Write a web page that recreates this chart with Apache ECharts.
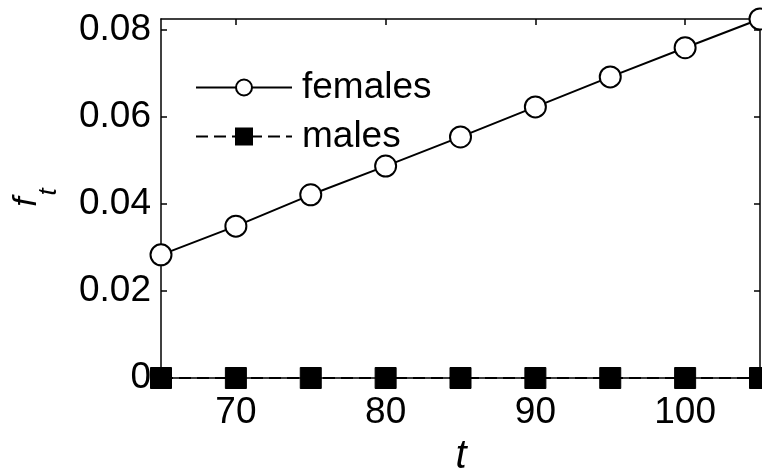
<!DOCTYPE html>
<html>
<head>
<meta charset="utf-8">
<script src="https://cdn.jsdelivr.net/npm/echarts@6/dist/echarts.min.js"></script>
<style>
  html, body { margin: 0; padding: 0; background: #fff; }
  #chart { width: 762px; height: 473px; }
</style>
</head>
<body>
<div id="chart"></div>
<script>
// Ages (t) and the fraction f_t for each sex
const ages = [65, 70, 75, 80, 85, 90, 95, 100, 105];
const females = [0.0283, 0.0349, 0.0421, 0.0487, 0.0554, 0.0623, 0.0692, 0.0759, 0.0825];
const males = [0, 0, 0, 0, 0, 0, 0, 0, 0];
const xTicks = [70, 80, 90, 100];
const yTicks = [0, 0.02, 0.04, 0.06, 0.08];

const FONT = '"Liberation Sans", Arial, sans-serif';

const pairs = (ys) => ages.map((a, i) => [a, ys[i]]);

const chart = echarts.init(document.getElementById('chart'), null, { renderer: 'canvas' });

const axisCommon = {
  axisLine: { show: true, onZero: false, lineStyle: { color: '#000', width: 1.5 } },
  axisTick: { show: true, inside: true, length: 6, lineStyle: { color: '#000', width: 1.5 } },
  splitLine: { show: false }
};

chart.setOption({
  animation: false,
  backgroundColor: '#fff',
  grid: { left: 161, right: 2, top: 19, bottom: 95, containLabel: false, outerBoundsMode: 'none' },
  xAxis: [
    Object.assign({}, axisCommon, {
      type: 'value', min: 65, max: 105, position: 'bottom',
      axisTick: Object.assign({}, axisCommon.axisTick, { customValues: xTicks }),
      axisLabel: { customValues: xTicks, color: '#000', fontFamily: FONT, fontSize: 37, margin: 16 }
    }),
    Object.assign({}, axisCommon, {
      type: 'value', min: 65, max: 105, position: 'top',
      axisTick: Object.assign({}, axisCommon.axisTick, { customValues: xTicks }),
      axisLabel: { show: false }
    })
  ],
  yAxis: [
    Object.assign({}, axisCommon, {
      type: 'value', min: 0, max: 0.0825, position: 'left',
      axisTick: Object.assign({}, axisCommon.axisTick, { customValues: yTicks }),
      axisLabel: {
        customValues: yTicks, color: '#000', fontFamily: FONT, fontSize: 37, margin: 10,
        formatter: (v) => (v === 0 ? '0' : v.toFixed(2))
      }
    }),
    Object.assign({}, axisCommon, {
      type: 'value', min: 0, max: 0.0825, position: 'right',
      axisTick: Object.assign({}, axisCommon.axisTick, { customValues: yTicks }),
      axisLabel: { show: false }
    })
  ],
  graphic: [
    {
      // vertical axis title: italic f ...
      type: 'text', x: 27, y: 202, rotation: Math.PI / 2, silent: true,
      style: {
        text: 'f', align: 'center', verticalAlign: 'middle',
        fontFamily: FONT, fontStyle: 'italic', fontSize: 34, fill: '#000'
      }
    },
    {
      // ... with subscript t
      type: 'text', x: 49, y: 192, rotation: Math.PI / 2, silent: true,
      style: {
        text: 't', align: 'center', verticalAlign: 'middle',
        fontFamily: FONT, fontStyle: 'italic', fontSize: 26, fill: '#000'
      }
    },
    {
      // horizontal axis title t
      type: 'text', x: 461, y: 457, silent: true,
      style: {
        text: 't', align: 'center', verticalAlign: 'middle',
        fontFamily: FONT, fontStyle: 'italic', fontSize: 40, fill: '#000'
      }
    }
  ],
  legend: {
    left: 195, top: 69, orient: 'vertical', padding: 0,
    itemWidth: 96, itemHeight: 20, itemGap: 12,
    textStyle: { color: '#000', fontFamily: FONT, fontSize: 37, padding: [0, 0, 0, 5] },
    data: ['females', 'males']
  },
  series: [
    {
      name: 'females', type: 'line', data: pairs(females),
      symbol: 'circle', symbolSize: 21, showAllSymbol: true, clip: false,
      lineStyle: { color: '#000', width: 2 },
      itemStyle: { color: '#fff', borderColor: '#000', borderWidth: 2 },
      z: 3
    },
    {
      name: 'males', type: 'line', data: pairs(males),
      symbol: 'rect', symbolSize: 21, showAllSymbol: true, clip: false,
      lineStyle: { color: '#000', width: 2, type: [12, 6] },
      itemStyle: { color: '#000', borderColor: '#000', borderWidth: 1 },
      z: 4
    }
  ]
});
</script>
</body>
</html>
